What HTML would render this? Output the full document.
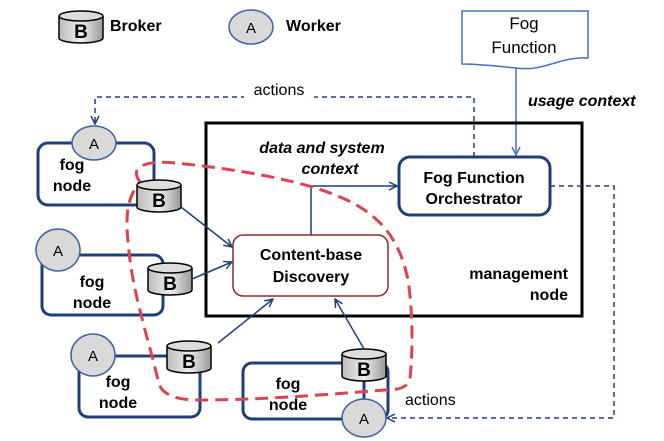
<!DOCTYPE html>
<html><head><meta charset="utf-8"><style>
html,body{margin:0;padding:0;background:#fff}
svg{display:block}
text{font-family:"Liberation Sans","DejaVu Sans",sans-serif}
.b{font-weight:bold}
</style></head><body>
<svg width="664" height="441" viewBox="0 0 664 441" xmlns="http://www.w3.org/2000/svg">
<defs>
<linearGradient id="cg" x1="0" x2="1" y1="0" y2="0"><stop offset="0" stop-color="#bbb"/><stop offset="0.5" stop-color="#eee"/><stop offset="1" stop-color="#999"/></linearGradient>
<marker id="ah" markerWidth="10" markerHeight="10" refX="9" refY="5" orient="auto" markerUnits="userSpaceOnUse"><path d="M1,1 L9,5 L1,9" fill="none" stroke="#1f3f7a" stroke-width="1.5"/></marker>
<marker id="ah2" markerWidth="10" markerHeight="10" refX="9" refY="5" orient="auto" markerUnits="userSpaceOnUse"><path d="M1,1 L9,5 L1,9" fill="none" stroke="#4472c4" stroke-width="1.5"/></marker>
<g id="cyl"><path d="M0,5 L0,27 A22,5 0 0 0 44,27 L44,5" fill="url(#cg)" stroke="#000" stroke-width="1.5"/><ellipse cx="22" cy="5" rx="22" ry="5" fill="#ddd" stroke="#000" stroke-width="1.5"/><text x="22" y="27" text-anchor="middle" font-size="19" class="b">B</text></g>
<g id="wk"><ellipse cx="0" cy="0" rx="22" ry="17" fill="#d9d9d9" stroke="#3b62a3" stroke-width="1.5"/><text x="0" y="6" text-anchor="middle" font-size="15">A</text></g>
</defs>
<use href="#cyl" x="59" y="11"/>
<text x="110" y="31" font-size="16" class="b">Broker</text>
<use href="#wk" x="251" y="27"/>
<text x="286" y="31" font-size="16" class="b">Worker</text>
<path d="M462,11 L588,11 L588,58 C560,56 545,72 516,68 C495,66 480,64 462,64 Z" fill="#fff" stroke="#4472c4" stroke-width="1.5"/>
<text x="524" y="29" text-anchor="middle" font-size="17">Fog</text>
<text x="524" y="53" text-anchor="middle" font-size="17">Function</text>
<line x1="516" y1="68" x2="516" y2="155" stroke="#4472c4" stroke-width="1.5" marker-end="url(#ah2)"/>
<text x="528" y="106" font-size="16" class="b" font-style="italic">usage context</text>
<rect x="206" y="123" width="376" height="193" fill="none" stroke="#000" stroke-width="3"/>
<text x="322" y="153" text-anchor="middle" font-size="16" class="b" font-style="italic">data and system</text>
<text x="330" y="174" text-anchor="middle" font-size="16" class="b" font-style="italic">context</text>
<text x="568" y="279" text-anchor="end" font-size="16" class="b">management</text>
<text x="568" y="300" text-anchor="end" font-size="16" class="b">node</text>
<rect x="399" y="157" width="151" height="58" rx="11" fill="#fff" stroke="#1f3f7a" stroke-width="3"/>
<text x="474" y="183" text-anchor="middle" font-size="16" class="b">Fog Function</text>
<text x="474" y="204" text-anchor="middle" font-size="16" class="b">Orchestrator</text>
<rect x="233" y="235" width="155" height="61" rx="10" fill="#fff" stroke="#8b2a2a" stroke-width="1.5"/>
<text x="311" y="260" text-anchor="middle" font-size="16" class="b">Content-base</text>
<text x="311" y="282" text-anchor="middle" font-size="16" class="b">Discovery</text>
<path d="M311,235 L311,186 L397,186" fill="none" stroke="#1f3f7a" stroke-width="1.5" marker-end="url(#ah)"/>
<path d="M474,157 L474,97 L95,97 L95,124" fill="none" stroke="#1f3f7a" stroke-width="1.5" stroke-dasharray="5,4" marker-end="url(#ah)"/>
<rect x="244" y="82" width="70" height="16" fill="#fff"/>
<text x="279" y="95" text-anchor="middle" font-size="16">actions</text>
<path d="M550,186 L614,186 L614,418 L387,418" fill="none" stroke="#1f3f7a" stroke-width="1.5" stroke-dasharray="5,4" marker-end="url(#ah)"/>
<text x="405" y="405" font-size="16">actions</text>
<rect x="38" y="143" width="116" height="62" rx="10" fill="#fff" stroke="#1f3f7a" stroke-width="3"/>
<text x="72" y="170" text-anchor="middle" font-size="16" class="b">fog</text>
<text x="72" y="191" text-anchor="middle" font-size="16" class="b">node</text>
<use href="#wk" x="94" y="143"/>
<rect x="42" y="255" width="121" height="60" rx="9" fill="#fff" stroke="#1f3f7a" stroke-width="3"/>
<text x="92" y="287" text-anchor="middle" font-size="16" class="b">fog</text>
<text x="92" y="308" text-anchor="middle" font-size="16" class="b">node</text>
<ellipse cx="58" cy="250" rx="22" ry="21" fill="#d9d9d9" stroke="#3b62a3" stroke-width="1.5"/><text x="58" y="256" text-anchor="middle" font-size="15">A</text>
<rect x="79" y="356" width="121" height="61" rx="9" fill="#fff" stroke="#1f3f7a" stroke-width="3"/>
<text x="118" y="387" text-anchor="middle" font-size="16" class="b">fog</text>
<text x="118" y="408" text-anchor="middle" font-size="16" class="b">node</text>
<ellipse cx="93" cy="355" rx="22" ry="21" fill="#d9d9d9" stroke="#3b62a3" stroke-width="1.5"/><text x="93" y="361" text-anchor="middle" font-size="15">A</text>
<rect x="243" y="363" width="145" height="56" rx="9" fill="#fff" stroke="#1f3f7a" stroke-width="3"/>
<text x="288" y="389" text-anchor="middle" font-size="16" class="b">fog</text>
<text x="288" y="410" text-anchor="middle" font-size="16" class="b">node</text>
<line x1="364" y1="380" x2="364" y2="400" stroke="#1f3f7a" stroke-width="3"/>
<ellipse cx="364" cy="418" rx="22" ry="19" fill="#d9d9d9" stroke="#3b62a3" stroke-width="1.5"/><text x="364" y="424" text-anchor="middle" font-size="15">A</text>
<path d="M140,182 C128,166 148,160 175,163 C230,168 300,180 335,195 C380,212 400,240 408,280 C414,320 412,360 410,378 C408,388 398,390 385,390 C320,395 260,400 200,400 C170,400 160,392 158,380 C150,345 135,300 130,260 C125,220 125,200 140,182" fill="none" stroke="#e04050" stroke-width="3" stroke-dasharray="13,7"/>
<use href="#cyl" x="137" y="180"/>
<use href="#cyl" x="148" y="263"/>
<use href="#cyl" x="167" y="341"/>
<use href="#cyl" x="342" y="349"/>
<line x1="181" y1="207" x2="232" y2="247" stroke="#1f3f7a" stroke-width="1.5" marker-end="url(#ah)"/>
<line x1="192" y1="279" x2="232" y2="262" stroke="#1f3f7a" stroke-width="1.5" marker-end="url(#ah)"/>
<line x1="218" y1="343" x2="273" y2="299" stroke="#1f3f7a" stroke-width="1.5" marker-end="url(#ah)"/>
<line x1="364" y1="349" x2="335" y2="299" stroke="#1f3f7a" stroke-width="1.5" marker-end="url(#ah)"/>
</svg>
</body></html>
